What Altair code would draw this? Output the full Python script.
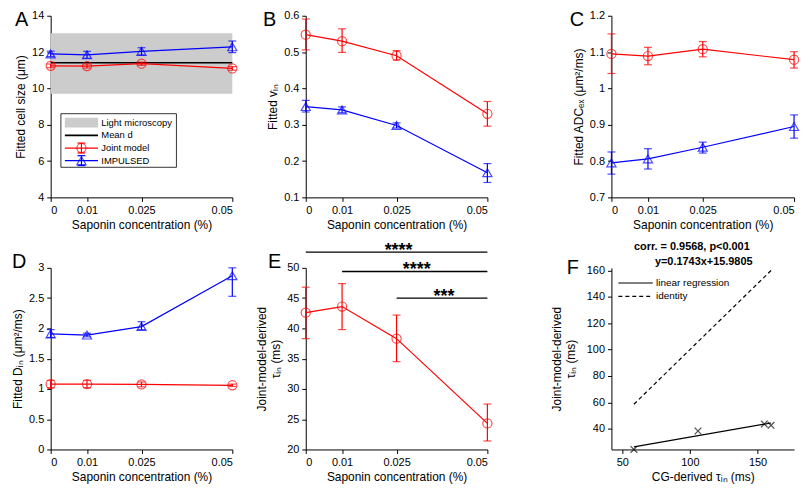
import altair as alt
import pandas as pd

FONT = "Liberation Sans"
RED = "#ff0000"
BLUE = "#0000ff"

# ---------------- data ----------------
conc = [0, 0.01, 0.025, 0.05]
conc_ticks = [0, 0.01, 0.025, 0.05]

# A: fitted cell size (um)
a_joint = [11.24, 11.23, 11.36, 11.10]
a_joint_lo = [11.14, 11.12, 11.27, 11.00]
a_joint_hi = [11.34, 11.34, 11.45, 11.20]
a_imp = [11.90, 11.85, 12.04, 12.29]
a_imp_lo = [11.75, 11.66, 11.84, 11.97]
a_imp_hi = [12.05, 12.04, 12.24, 12.61]
light_band = [9.71, 13.03]
mean_d = [11.41]

# B: fitted v_in
b_joint = [0.548, 0.530, 0.490, 0.330]
b_joint_lo = [0.506, 0.499, 0.478, 0.296]
b_joint_hi = [0.591, 0.564, 0.504, 0.364]
b_imp = [0.350, 0.341, 0.298, 0.168]
b_imp_lo = [0.335, 0.333, 0.291, 0.141]
b_imp_hi = [0.367, 0.349, 0.305, 0.193]

# C: fitted ADC_ex
c_joint = [1.095, 1.089, 1.108, 1.079]
c_joint_lo = [1.041, 1.065, 1.087, 1.056]
c_joint_hi = [1.150, 1.113, 1.129, 1.101]
c_imp = [0.795, 0.806, 0.838, 0.895]
c_imp_lo = [0.764, 0.778, 0.822, 0.863]
c_imp_hi = [0.825, 0.834, 0.852, 0.927]

# D: fitted D_in
d_joint = [1.08, 1.08, 1.075, 1.06]
d_joint_lo = [1.02, 1.02, 1.035, 1.04]
d_joint_hi = [1.14, 1.14, 1.115, 1.08]
d_imp = [1.91, 1.89, 2.03, 2.87]
d_imp_lo = [1.85, 1.86, 1.98, 2.53]
d_imp_hi = [1.98, 1.92, 2.11, 3.00]

# E: joint-model-derived tau_in
e_tau = [42.6, 43.6, 38.3, 24.3]
e_tau_lo = [38.3, 39.8, 34.5, 21.4]
e_tau_hi = [46.8, 47.4, 42.2, 27.5]
sig_start = [0, 0.01, 0.025]
sig_end = [0.05, 0.05, 0.05]
sig_level = [52.6, 49.4, 45.0]
sig_label = ["****", "****", "***"]

# F: CG-derived vs joint-model-derived tau_in
f_cg = [160, 155, 106, 58.6]
f_joint = [42.6, 43.6, 38.3, 24.3]
f_title = ["corr. = 0.9568, p<0.001", "y=0.1743x+15.9805"]

legend_a = ["Light microscopy", "Mean d", "Joint model", "IMPULSED"]
legend_f = ["linear regression", "identity"]

W = 183
H = 183
ONE = pd.DataFrame({"v": [0]})
LABEL_EXPR = "format(datum.value, '.4~g')"


def lin(dom):
    return alt.Scale(domain=dom, nice=False, zero=False)


def make_xy(xdom, xticks, xtitle, ydom, yticks, ytitle, ytpad=4):
    xs = lin(xdom)
    ys = lin(ydom)
    xa = alt.Axis(title=xtitle, values=xticks, labelExpr=LABEL_EXPR)
    ya = alt.Axis(title=ytitle, values=yticks, labelExpr=LABEL_EXPR, titlePadding=ytpad)

    def X(f):
        return alt.X(f"{f}:Q", scale=xs, axis=xa)

    def Y(f):
        return alt.Y(f"{f}:Q", scale=ys, axis=ya)

    return X, Y


def series(xv, y, lo, hi, color, shape, X, Y):
    df = pd.DataFrame({"x": xv, "y": y, "lo": lo, "hi": hi})
    b = alt.Chart(df)
    return [
        b.mark_line(color=color, strokeWidth=1.2).encode(x=X("x"), y=Y("y")),
        b.mark_rule(color=color, strokeWidth=1.2).encode(x=X("x"), y=Y("lo"), y2="hi"),
        b.mark_tick(color=color, orient="horizontal", size=8, thickness=1.2).encode(x=X("x"), y=Y("lo")),
        b.mark_tick(color=color, orient="horizontal", size=8, thickness=1.2).encode(x=X("x"), y=Y("hi")),
        b.mark_point(shape=shape, filled=False, color=color, size=85, strokeWidth=1.2).encode(x=X("x"), y=Y("y")),
    ]


def letter(t, dx, dy):
    return alt.Chart(pd.DataFrame({"t": [t]})).mark_text(
        fontSize=20, align="left", baseline="alphabetic", font=FONT, color="black"
    ).encode(x=alt.value(dx), y=alt.value(dy), text="t:N")


def ptext(t, px, py, size=10, align="left", weight="normal"):
    return alt.Chart(pd.DataFrame({"t": [t]})).mark_text(
        fontSize=size, align=align, baseline="middle", font=FONT, color="black", fontWeight=weight
    ).encode(x=alt.value(px), y=alt.value(py), text="t:N")


def prule(x1, x2, y, color, width=1.2, dash=None):
    kw = dict(color=color, strokeWidth=width)
    if dash:
        kw["strokeDash"] = dash
    return alt.Chart(ONE).mark_rule(**kw).encode(x=alt.value(x1), x2=alt.value(x2), y=alt.value(y))


def pvrule(x, y1, y2, color):
    return alt.Chart(ONE).mark_rule(color=color, strokeWidth=1.2).encode(
        x=alt.value(x), y=alt.value(y1), y2=alt.value(y2))


def ppoint(x, y, color, shape):
    return alt.Chart(ONE).mark_point(shape=shape, filled=False, color=color, size=85, strokeWidth=1.2).encode(
        x=alt.value(x), y=alt.value(y))


XT = "Saponin concentration (%)"

# ---------- Panel A ----------
X, Y = make_xy([0, 0.05], conc_ticks, XT, [4, 14], [4, 6, 8, 10, 12, 14], "Fitted cell size (μm)")
band_df = pd.DataFrame({"x0": [conc[0]], "x1": [conc[-1]], "lo": [light_band[0]], "hi": [light_band[1]]})
mean_df = pd.DataFrame({"x0": [conc[0]], "x1": [conc[-1]], "m": mean_d})
layers_a = [
    alt.Chart(band_df).mark_rect(color="#cccccc").encode(x=X("x0"), x2="x1", y=Y("lo"), y2="hi"),
    alt.Chart(mean_df).mark_rule(color="black", strokeWidth=1.6).encode(x=X("x0"), x2="x1", y=Y("m")),
]
layers_a += series(conc, a_joint, a_joint_lo, a_joint_hi, RED, "circle", X, Y)
layers_a += series(conc, a_imp, a_imp_lo, a_imp_hi, BLUE, "triangle-up", X, Y)
ry = [107.7, 120.5, 133.3, 146]
layers_a += [
    alt.Chart(ONE).mark_rect(fill="white", stroke="black", strokeWidth=0.8).encode(
        x=alt.value(10.3), x2=alt.value(126.7), y=alt.value(98.7), y2=alt.value(152.7)),
    alt.Chart(ONE).mark_rect(color="#cccccc").encode(
        x=alt.value(14.3), x2=alt.value(47.7), y=alt.value(ry[0] - 5), y2=alt.value(ry[0] + 5)),
    prule(14.3, 47.7, ry[1], "black", 1.6),
    prule(14.3, 47.7, ry[2], RED), pvrule(31, ry[2] - 5, ry[2] + 5, RED),
    prule(27, 35, ry[2] - 5, RED), prule(27, 35, ry[2] + 5, RED), ppoint(31, ry[2], RED, "circle"),
    prule(14.3, 47.7, ry[3], BLUE), pvrule(31, ry[3] - 5, ry[3] + 5, BLUE),
    prule(27, 35, ry[3] - 5, BLUE), prule(27, 35, ry[3] + 5, BLUE), ppoint(31, ry[3], BLUE, "triangle-up"),
]
for lab, yy in zip(legend_a, ry):
    layers_a.append(ptext(lab, 51, yy, size=9.5))
layers_a.append(letter("A", -36, 10))
panel_a = alt.layer(*layers_a).properties(width=W, height=H)

# ---------- Panel B ----------
X, Y = make_xy([0, 0.05], conc_ticks, XT, [0.1, 0.6], [0.1, 0.2, 0.3, 0.4, 0.5, 0.6], "Fitted vᵢₙ")
layers_b = series(conc, b_joint, b_joint_lo, b_joint_hi, RED, "circle", X, Y)
layers_b += series(conc, b_imp, b_imp_lo, b_imp_hi, BLUE, "triangle-up", X, Y)
layers_b.append(letter("B", -43, 10))
panel_b = alt.layer(*layers_b).properties(width=W, height=H)

# ---------- Panel C ----------
X, Y = make_xy([0, 0.05], conc_ticks, XT, [0.7, 1.2], [0.7, 0.8, 0.9, 1.0, 1.1, 1.2], "Fitted ADCₑₓ (μm²/ms)")
layers_c = series(conc, c_joint, c_joint_lo, c_joint_hi, RED, "circle", X, Y)
layers_c += series(conc, c_imp, c_imp_lo, c_imp_hi, BLUE, "triangle-up", X, Y)
layers_c.append(letter("C", -42, 10))
panel_c = alt.layer(*layers_c).properties(width=W + 1, height=H)

# ---------- Panel D ----------
X, Y = make_xy([0, 0.05], conc_ticks, XT, [0, 3], [0, 0.5, 1, 1.5, 2, 2.5, 3], "Fitted Dᵢₙ (μm²/ms)")
layers_d = series(conc, d_joint, d_joint_lo, d_joint_hi, RED, "circle", X, Y)
layers_d += series(conc, d_imp, d_imp_lo, d_imp_hi, BLUE, "triangle-up", X, Y)
layers_d.append(letter("D", -39, 0))
panel_d = alt.layer(*layers_d).properties(width=W, height=H)

# ---------- Panel E ----------
X, Y = make_xy([0, 0.05], conc_ticks, XT, [20, 50], [20, 25, 30, 35, 40, 45, 50],
               ["Joint-model-derived", "τᵢₙ (ms)"])
layers_e = series(conc, e_tau, e_tau_lo, e_tau_hi, RED, "circle", X, Y)
sig_df = pd.DataFrame({"x0": sig_start, "x1": sig_end, "lvl": sig_level, "lab": sig_label})
sig = alt.Chart(sig_df)
layers_e += [
    sig.mark_rule(color="black", strokeWidth=1.4).encode(x=X("x0"), x2="x1", y=Y("lvl")),
    sig.transform_calculate(mid="(datum.x0 + datum.x1) / 2").mark_text(
        fontSize=18, fontWeight="bold", font=FONT, baseline="alphabetic", dy=4, dx=2, color="black"
    ).encode(x=X("mid"), y=Y("lvl"), text="lab:N"),
]
layers_e.append(letter("E", -38, 0))
panel_e = alt.layer(*layers_e).properties(width=W, height=H)

# ---------- Panel F ----------
X, Y = make_xy([42, 177], [50, 100, 150], "CG-derived τᵢₙ (ms)", [24.3, 162],
               [40, 60, 80, 100, 120, 140, 160], ["Joint-model-derived", "τᵢₙ (ms)"], ytpad=9)
f_df = pd.DataFrame({"cg": f_cg, "joint": f_joint})
fb = alt.Chart(f_df)
layers_f = [
    fb.mark_line(color="black", strokeWidth=1.2, strokeDash=[4, 3]).encode(x=X("cg"), y=Y("cg")),
    fb.transform_regression("cg", "joint").mark_line(color="black", strokeWidth=1.2).encode(
        x=X("cg"), y=Y("joint")),
    fb.mark_point(shape="M-1,-1L1,1M-1,1L1,-1", filled=False, color="black", size=45, strokeWidth=1.2).encode(
        x=X("cg"), y=Y("joint")),
    prule(7, 41.7, 15.3, "black"),
    prule(7, 41.7, 28.7, "black", 1.2, [4, 3]),
    ptext(legend_f[0], 45, 15.3),
    ptext(legend_f[1], 45, 28.7),
    ptext(f_title[0], 81, -21.3, size=11, align="center", weight="bold"),
    ptext(f_title[1], 93, -6.3, size=11, align="center", weight="bold"),
    letter("F", -45, 6),
]
panel_f = alt.layer(*layers_f).properties(width=W + 1, height=H)


def spacer(w, h):
    return alt.Chart(ONE).mark_point(opacity=0).encode(
        x=alt.value(0), y=alt.value(0)).properties(width=w, height=h)


cells = [
    panel_a, spacer(74, H), panel_b, spacer(125, H), panel_c,
    spacer(W, 71), spacer(74, 71), spacer(W, 71), spacer(125, 71), spacer(W + 1, 71),
    panel_d, spacer(74, H), panel_e, spacer(125, H), panel_f,
]

chart = alt.concat(*cells, columns=5, spacing=0, bounds="flush", align="each").properties(
    padding={"left": 3, "top": 0, "right": 0, "bottom": 0}
).configure_view(stroke=None).configure_axis(
    domainColor="black", tickColor="black", labelColor="black", titleColor="black",
    grid=False, tickSize=4, labelPadding=3, titlePadding=4,
    labelFont=FONT, titleFont=FONT, labelFontSize=11, titleFontSize=12,
    titleFontWeight="normal", domainWidth=1, tickWidth=1,
).configure_text(font=FONT)

chart.save("out.html", embed_options={"renderer": "svg", "actions": False})
